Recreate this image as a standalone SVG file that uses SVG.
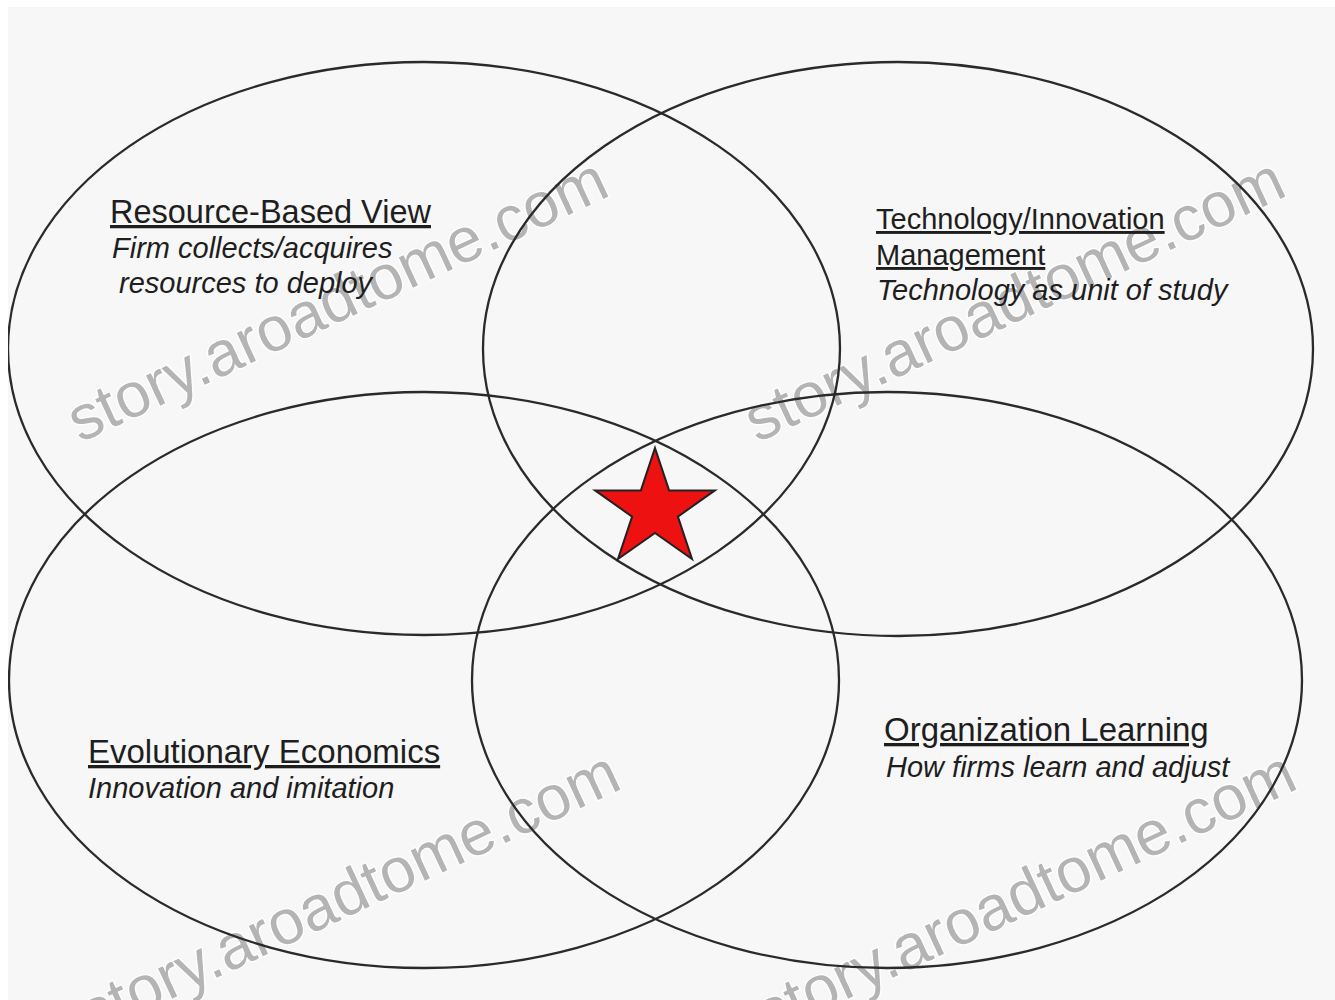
<svg xmlns="http://www.w3.org/2000/svg" width="1335" height="1000" viewBox="0 0 1335 1000">
<style>
.ell{fill:none;stroke:#2a2a2a;stroke-width:2.3}
.title{font-family:"Liberation Sans",Arial,sans-serif;fill:#1e1e1e;text-decoration:underline}
.sub{font-family:"Liberation Sans",Arial,sans-serif;font-style:italic;fill:#1e1e1e;font-size:29px}
.wm{font-family:"Liberation Sans",Arial,sans-serif;font-size:63px;fill:#b4b4b4;stroke:#ffffff;stroke-width:2.5;paint-order:stroke}
</style>
<defs>
<clipPath id="frame"><rect x="8" y="7" width="1327" height="993"/></clipPath>
</defs>
<rect x="0" y="0" width="1335" height="1000" fill="#ffffff"/>
<rect x="8" y="7" width="1327" height="993" fill="#f7f7f7"/>
<g clip-path="url(#frame)">
<g id="watermarks">
<text class="wm" transform="translate(80,443) rotate(-25)">story.aroadtome.com</text>
<text class="wm" transform="translate(757,443) rotate(-25)">story.aroadtome.com</text>
<text class="wm" transform="translate(92,1036) rotate(-25)">story.aroadtome.com</text>
<text class="wm" transform="translate(768,1036) rotate(-25)">story.aroadtome.com</text>
</g>
<g id="node-rbv">
<ellipse class="ell" cx="424" cy="348.5" rx="416" ry="286.5"/>
<text class="title" x="110" y="223" font-size="32.5">Resource-Based View</text>
<text class="sub" x="112" y="258">Firm collects/acquires</text>
<text class="sub" x="119" y="293">resources to deploy</text>
</g>
<g id="node-tim">
<ellipse class="ell" cx="898" cy="349" rx="415" ry="287"/>
<text class="title" x="876" y="229" font-size="29">Technology/Innovation</text>
<text class="title" x="876" y="265" font-size="29">Management</text>
<text class="sub" x="877" y="300">Technology as unit of study</text>
</g>
<g id="node-ee">
<ellipse class="ell" cx="424" cy="680" rx="415" ry="288"/>
<text class="title" x="88" y="763" font-size="33">Evolutionary Economics</text>
<text class="sub" x="88" y="798">Innovation and imitation</text>
</g>
<g id="node-ol">
<ellipse class="ell" cx="887" cy="680" rx="415" ry="288"/>
<text class="title" x="884" y="741" font-size="33">Organization Learning</text>
<text class="sub" x="886" y="777">How firms learn and adjust</text>
</g>
<g id="node-star">
<polygon points="655,448 669.1,490.4 714.9,490.4 677.9,516.6 692,559 655,533 618,559 632.1,516.6 595.1,490.4 640.9,490.4" fill="#ee1111" stroke="#222" stroke-width="2" stroke-linejoin="miter"/>
</g>
</g>
</svg>
